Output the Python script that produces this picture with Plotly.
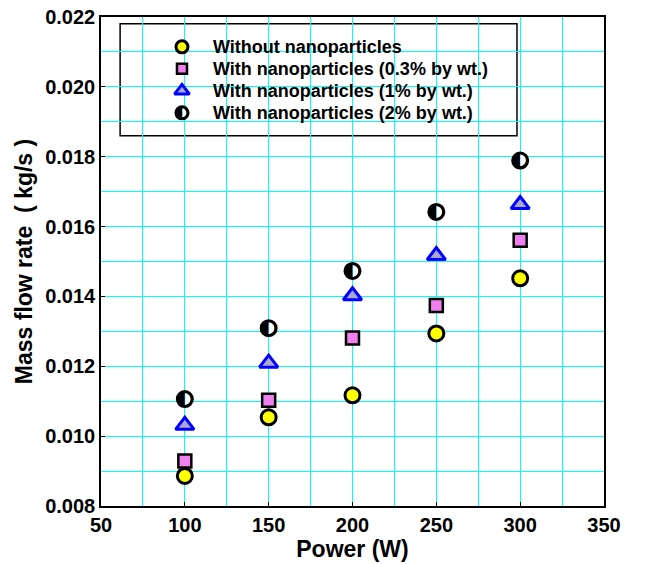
import plotly.graph_objects as go

power = [100, 150, 200, 250, 300]
without_np = [0.00886, 0.01054, 0.01117, 0.01294, 0.01452]
np_03 = [0.00929, 0.01103, 0.01281, 0.01374, 0.01561]
np_1 = [0.01031, 0.01209, 0.01402, 0.01517, 0.01663]
np_2 = [0.01106, 0.01309, 0.01473, 0.01642, 0.01789]

labels = ["Without nanoparticles", "With nanoparticles (0.3% by wt.)",
          "With nanoparticles (1% by wt.)", "With nanoparticles (2% by wt.)"]

FONT = "Liberation Sans, Arial, sans-serif"
CYAN = "#00FFFF"

fig = go.Figure()

circle_m = dict(symbol="circle", size=15, color="#FFFF00", line=dict(color="black", width=3))
square_m = dict(symbol="square", size=13, color="#F080F0", line=dict(color="black", width=2.5))
tri_m = dict(symbol="triangle-up", size=16, color="#A8A8C8", line=dict(color="#0000FF", width=3))
half_base = dict(symbol="circle", size=15, color="white", line=dict(color="black", width=3))

fig.add_trace(go.Scatter(x=power, y=without_np, mode="markers", marker=circle_m, cliponaxis=False))
fig.add_trace(go.Scatter(x=power, y=np_03, mode="markers", marker=square_m, cliponaxis=False))
fig.add_trace(go.Scatter(x=power, y=np_1, mode="markers", marker=tri_m, cliponaxis=False))
fig.add_trace(go.Scatter(x=power, y=np_2, mode="markers", marker=half_base, cliponaxis=False))
fig.add_trace(go.Scatter(x=power, y=np_2, mode="text", text=["\u25D0"] * len(power),
                         textposition="middle center",
                         textfont=dict(family="DejaVu Sans", size=19, color="black"), cliponaxis=False))

# legend (custom, to show the half-filled circle)
leg_x = 0.161
leg_y = [0.939, 0.894, 0.849, 0.804]
for m, yy in zip([circle_m, square_m, tri_m, half_base], leg_y):
    mm = dict(m, size=m["size"] - 3)
    fig.add_trace(go.Scatter(x=[leg_x], y=[yy], mode="markers", marker=mm,
                             xaxis="x2", yaxis="y2", cliponaxis=False))
fig.add_trace(go.Scatter(x=[leg_x], y=[leg_y[3]], mode="text", text=["\u25D0"],
                         textposition="middle center",
                         textfont=dict(family="DejaVu Sans", size=15, color="black"),
                         xaxis="x2", yaxis="y2", cliponaxis=False))
for lab, yy in zip(labels, leg_y):
    fig.add_annotation(x=0.219, y=yy, xref="paper", yref="paper", text="<b>" + lab + "</b>",
                       showarrow=False, xanchor="left", yanchor="middle",
                       font=dict(family=FONT, size=18, color="black"))

fig.add_shape(type="rect", xref="paper", yref="paper", x0=0.038, x1=0.827, y0=0.757, y1=0.986,
              line=dict(color="black", width=1.5), fillcolor="white", layer="between")

axis_common = dict(
    showline=True, linecolor="black", linewidth=1.5, mirror=True,
    showgrid=True, gridcolor=CYAN, gridwidth=1.3,
    ticks="inside", ticklen=4, tickcolor="black",
    tickfont=dict(family=FONT, size=20, color="black"),
    zeroline=False, automargin=False, ticklabeloverflow="allow",
)

fig.update_layout(
    width=651, height=564,
    margin=dict(l=101, r=47, t=17, b=58),
    paper_bgcolor="white", plot_bgcolor="white",
    showlegend=False,
    xaxis=dict(range=[50, 350], dtick=50, tick0=50,
               tickprefix="<b>", ticksuffix="</b>",
               minor=dict(dtick=25, showgrid=True, gridcolor=CYAN, gridwidth=1.3),
               title=dict(text="<b>Power (W)</b>", font=dict(family=FONT, size=23, color="black"), standoff=4),
               **axis_common),
    yaxis=dict(range=[0.008, 0.022], dtick=0.002, tick0=0.008, tickformat=".3f",
               tickprefix="<b>", ticksuffix="</b>",
               minor=dict(dtick=0.001, showgrid=True, gridcolor=CYAN, gridwidth=1.3),
               title=dict(text="<b>Mass flow rate  ( kg/s )</b>", font=dict(family=FONT, size=23, color="black"), standoff=6),
               **axis_common),
    xaxis2=dict(range=[0, 1], overlaying="x", visible=False, fixedrange=True),
    yaxis2=dict(range=[0, 1], overlaying="y", visible=False, fixedrange=True),
)

fig.write_html("out.html", config={"displayModeBar": False},
               post_script="document.body.style.margin='0';document.body.style.overflow='hidden';")
